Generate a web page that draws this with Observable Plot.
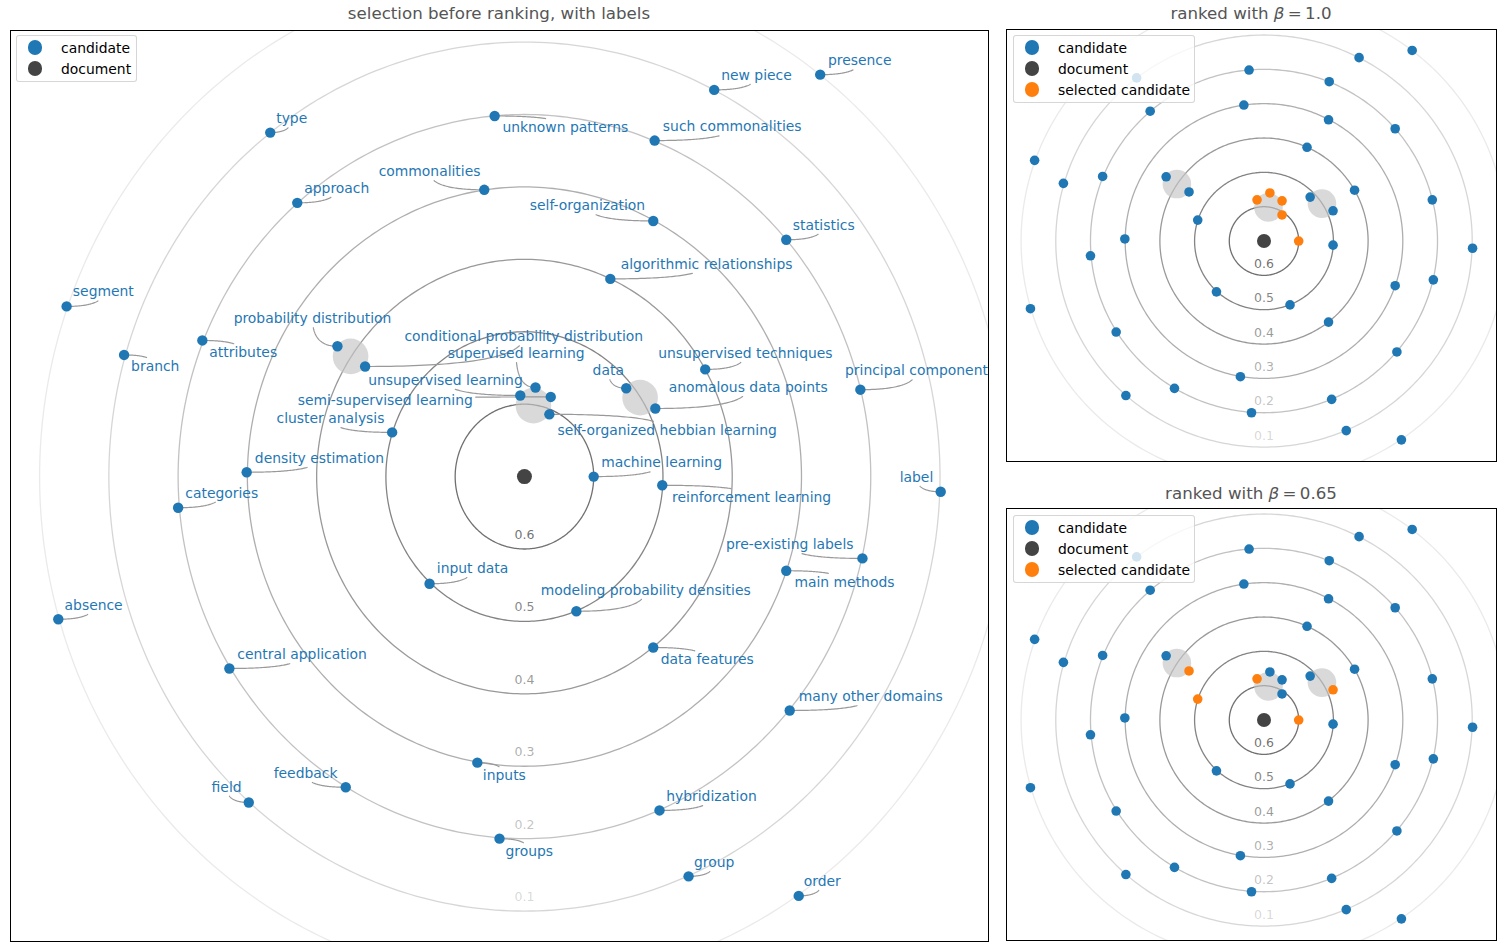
<!DOCTYPE html>
<html><head><meta charset="utf-8">
<script src="https://cdn.jsdelivr.net/npm/d3@7"></script>
<script src="https://cdn.jsdelivr.net/npm/@observablehq/plot@0.6"></script>
<style>
body{margin:0;background:#fff;font-family:"DejaVu Sans",sans-serif;}
#root{position:relative;width:1500px;height:950px;overflow:hidden;background:#fff;}
.panel{position:absolute;}
.title{position:absolute;text-align:center;font-size:16.67px;color:#555;line-height:20px;white-space:nowrap;}
.legend{position:absolute;box-sizing:border-box;background:rgba(255,255,255,0.8);border:1px solid rgba(204,204,204,0.8);border-radius:3px;font-size:13.9px;color:#000;}
.legend .row{position:absolute;height:20px;line-height:20px;white-space:nowrap;}
.legend .sw{position:absolute;width:14.6px;height:14.6px;border-radius:50%;}
</style></head>
<body><div id="root"></div>
<script>
// ---------------- data ----------------
// candidate phrases: position in the similarity plane (x, y) and label centre (lx, ly)
const candidates = [
  {term:"type", x:-0.367, y:0.475, lx:-0.336, ly:0.494},
  {term:"approach", x:-0.328, y:0.378, lx:-0.271, ly:0.398},
  {term:"commonalities", x:-0.058, y:0.396, lx:-0.137, ly:0.421},
  {term:"segment", x:-0.661, y:0.235, lx:-0.608, ly:0.255},
  {term:"branch", x:-0.578, y:0.168, lx:-0.533, ly:0.152},
  {term:"attributes", x:-0.465, y:0.188, lx:-0.406, ly:0.171},
  {term:"probability distribution", x:-0.270, y:0.180, lx:-0.306, ly:0.218},
  {term:"cluster analysis", x:-0.191, y:0.061, lx:-0.280, ly:0.080},
  {term:"density estimation", x:-0.401, y:0.006, lx:-0.296, ly:0.025},
  {term:"presence", x:0.427, y:0.555, lx:0.484, ly:0.574},
  {term:"new piece", x:0.274, y:0.534, lx:0.335, ly:0.554},
  {term:"unknown patterns", x:-0.043, y:0.498, lx:0.059, ly:0.482},
  {term:"such commonalities", x:0.188, y:0.464, lx:0.300, ly:0.483},
  {term:"self-organization", x:0.186, y:0.353, lx:0.091, ly:0.374},
  {term:"statistics", x:0.378, y:0.327, lx:0.432, ly:0.347},
  {term:"algorithmic relationships", x:0.124, y:0.273, lx:0.263, ly:0.293},
  {term:"unsupervised techniques", x:0.261, y:0.148, lx:0.319, ly:0.170},
  {term:"principal component", x:0.485, y:0.120, lx:0.566, ly:0.146},
  {term:"data", x:0.147, y:0.122, lx:0.121, ly:0.146},
  {term:"anomalous data points", x:0.189, y:0.094, lx:0.323, ly:0.123},
  {term:"conditional probability distribution", x:-0.230, y:0.152, lx:-0.001, ly:0.193},
  {term:"supervised learning", x:0.016, y:0.123, lx:-0.012, ly:0.170},
  {term:"unsupervised learning", x:-0.006, y:0.112, lx:-0.114, ly:0.133},
  {term:"semi-supervised learning", x:0.038, y:0.110, lx:-0.201, ly:0.105},
  {term:"self-organized hebbian learning", x:0.036, y:0.086, lx:0.206, ly:0.064},
  {term:"machine learning", x:0.100, y:0.000, lx:0.198, ly:0.019},
  {term:"reinforcement learning", x:0.199, y:-0.012, lx:0.328, ly:-0.029},
  {term:"label", x:0.601, y:-0.021, lx:0.566, ly:-0.001},
  {term:"pre-existing labels", x:0.488, y:-0.113, lx:0.383, ly:-0.094},
  {term:"main methods", x:0.378, y:-0.130, lx:0.462, ly:-0.146},
  {term:"modeling probability densities", x:0.075, y:-0.186, lx:0.175, ly:-0.157},
  {term:"data features", x:0.186, y:-0.236, lx:0.264, ly:-0.253},
  {term:"many other domains", x:0.383, y:-0.323, lx:0.500, ly:-0.304},
  {term:"hybridization", x:0.195, y:-0.461, lx:0.270, ly:-0.442},
  {term:"group", x:0.237, y:-0.552, lx:0.274, ly:-0.533},
  {term:"order", x:0.396, y:-0.579, lx:0.430, ly:-0.559},
  {term:"input data", x:-0.137, y:-0.148, lx:-0.075, ly:-0.127},
  {term:"absence", x:-0.673, y:-0.197, lx:-0.622, ly:-0.178},
  {term:"central application", x:-0.426, y:-0.265, lx:-0.321, ly:-0.246},
  {term:"feedback", x:-0.258, y:-0.429, lx:-0.316, ly:-0.410},
  {term:"field", x:-0.398, y:-0.450, lx:-0.430, ly:-0.429},
  {term:"inputs", x:-0.068, y:-0.395, lx:-0.029, ly:-0.413},
  {term:"groups", x:-0.036, y:-0.500, lx:0.007, ly:-0.518},
  {term:"categories", x:-0.500, y:-0.043, lx:-0.437, ly:-0.023}
];
// positions of grouped candidates as drawn in the ranked panels
const rankedPositions = [
  {term:"probability distribution", x:-0.282, y:0.187},
  {term:"conditional probability distribution", x:-0.216, y:0.143},
  {term:"data", x:0.133, y:0.128},
  {term:"anomalous data points", x:0.199, y:0.088},
  {term:"unsupervised learning", x:-0.020, y:0.120},
  {term:"supervised learning", x:0.017, y:0.140},
  {term:"semi-supervised learning", x:0.052, y:0.117},
  {term:"self-organized hebbian learning", x:0.052, y:0.076}
];
const clusterCentres = [
  {x:-0.251, y:0.166},
  {x:0.013, y:0.098},
  {x:0.167, y:0.109}
];
const documentPoint = [{x:0, y:0}];
const ringValues = [0.6, 0.5, 0.4, 0.3, 0.2, 0.1, 0.0];
const ringTickLabels = [0.6, 0.5, 0.4, 0.3, 0.2, 0.1];
const selectedBeta1 = ["supervised learning","unsupervised learning","semi-supervised learning","self-organized hebbian learning","machine learning"];
const selectedBeta065 = ["unsupervised learning","conditional probability distribution","cluster analysis","anomalous data points","machine learning"];
const maxSimilarity = 0.7;

// ---------------- styling ----------------
const BLUE = "#1f77b4", ORANGE = "#ff7f0e", DOC = "#444444";
const FONT = "DejaVu Sans";
const xDomain = [-0.742, 0.670], yDomain = [-0.642, 0.616];
const ringOpacity = v => 0.12 + v * 1.2;

function ringPoints(v) {
  const r = maxSimilarity - v;
  return d3.range(0, 361, 1).map(a => ({ring: v, x: r * Math.cos(a * Math.PI / 180), y: r * Math.sin(a * Math.PI / 180)}));
}

const ctx = document.createElement("canvas").getContext("2d");
ctx.font = `13.9px "${FONT}"`;

function connector(d, kx, ky) {
  const hw = ctx.measureText(d.term).width / 2 + 3, hh = 9;
  const P = t => ({term: d.term,
    x: (1 - t) * (1 - t) * d.lx + 2 * t * (1 - t) * d.lx + t * t * d.x,
    y: (1 - t) * (1 - t) * d.ly + 2 * t * (1 - t) * d.y + t * t * d.y});
  const inside = p => Math.abs((p.x - d.lx) * kx) < hw && Math.abs((p.y - d.ly) * ky) < hh;
  if (inside(P(1))) return [];
  let lo = 0, hi = 1;
  for (let i = 0; i < 40; i++) { const m = (lo + hi) / 2; if (inside(P(m))) lo = m; else hi = m; }
  return d3.range(0, 41).map(i => P(hi + (1 - hi) * i / 40));
}

function makePanel({w, h, labels, selected, dotR, docR, blobR, ringDy}) {
  const kx = w / (xDomain[1] - xDomain[0]), ky = h / (yDomain[1] - yDomain[0]);
  const override = new Map(rankedPositions.map(d => [d.term, d]));
  const pts = candidates.map(d => {
    const o = labels ? null : override.get(d.term);
    return {...d, x: o ? o.x : d.x, y: o ? o.y : d.y, sel: selected.includes(d.term)};
  });
  const marks = [];
  for (const v of ringValues) {
    marks.push(Plot.line(ringPoints(v), {x: "x", y: "y", stroke: "#555", strokeOpacity: ringOpacity(v), strokeWidth: 1.3, curve: "linear-closed", clip: true}));
  }
  marks.push(Plot.text(ringTickLabels, {x: () => 0, y: d => -(maxSimilarity - d), text: d => d.toFixed(1), dy: -ringDy, fill: "#555", fillOpacity: d => ringOpacity(d), fontSize: 12.5, fontFamily: FONT}));
  marks.push(Plot.dot(clusterCentres, {x: "x", y: "y", r: blobR, fill: "#c4c4c4", fillOpacity: 0.65}));
  if (labels) {
    const conn = pts.flatMap(d => connector(d, kx, ky));
    marks.push(Plot.line(conn, {x: "x", y: "y", z: "term", stroke: "#999", strokeWidth: 1.2}));
  }
  marks.push(Plot.dot(pts.filter(d => !d.sel), {x: "x", y: "y", r: dotR, fill: BLUE}));
  marks.push(Plot.dot(pts.filter(d => d.sel), {x: "x", y: "y", r: dotR, fill: ORANGE}));
  marks.push(Plot.dot(documentPoint, {x: "x", y: "y", r: docR, fill: DOC}));
  if (labels) {
    marks.push(Plot.text(pts, {x: "lx", y: "ly", text: "term", fill: BLUE, fontSize: 13.9, fontFamily: FONT, textAnchor: "middle", lineAnchor: "middle"}));
  }
  marks.push(Plot.frame({stroke: "#000", strokeWidth: 1}));
  return Plot.plot({
    width: w + 2, height: h + 2,
    marginLeft: 1, marginRight: 1, marginTop: 1, marginBottom: 1,
    x: {domain: xDomain, axis: null},
    y: {domain: yDomain, axis: null},
    style: {fontFamily: FONT, background: "transparent", overflow: "visible"},
    marks
  });
}

const root = document.getElementById("root");
function place(el, left, top) { el.classList.add("panel"); el.style.left = left + "px"; el.style.top = top + "px"; root.appendChild(el); }

place(makePanel({w: 978, h: 911, labels: true, selected: [], dotR: 5.2, docR: 7.5, blobR: 17.8, ringDy: 14}), 9, 29);
place(makePanel({w: 490, h: 432, labels: false, selected: selectedBeta1, dotR: 4.8, docR: 7, blobR: 14.3, ringDy: 11.3}), 1005, 28);
place(makePanel({w: 490, h: 432, labels: false, selected: selectedBeta065, dotR: 4.8, docR: 7, blobR: 14.3, ringDy: 11.3}), 1005, 507);

function title(html, left, width, top) {
  const t = document.createElement("div"); t.className = "title";
  t.style.left = left + "px"; t.style.width = width + "px"; t.style.top = top + "px";
  t.innerHTML = html; root.appendChild(t);
}
title("selection before ranking, with labels", 10, 978, 4);
title('ranked with <i>β</i>\u2009=\u20091.0', 1006, 490, 4);
title('ranked with <i>β</i>\u2009=\u20090.65', 1006, 490, 484);

function legend(entries, left, top, width) {
  const L = document.createElement("div"); L.className = "legend";
  L.style.left = left + "px"; L.style.top = top + "px"; L.style.width = width + "px";
  L.style.height = (entries.length * 21 + 5) + "px";
  entries.forEach(([label, color], i) => {
    const cy = 11.5 + i * 21;
    const sw = document.createElement("div"); sw.className = "sw";
    sw.style.background = color; sw.style.left = (18 - 7.3) + "px"; sw.style.top = (cy - 7.3) + "px";
    const r = document.createElement("div"); r.className = "row";
    r.style.left = "44px"; r.style.top = (cy - 10) + "px"; r.textContent = label;
    L.appendChild(sw); L.appendChild(r);
  });
  root.appendChild(L);
}
legend([["candidate", BLUE], ["document", DOC]], 16, 35, 121);
legend([["candidate", BLUE], ["document", DOC], ["selected candidate", ORANGE]], 1013, 35, 182);
legend([["candidate", BLUE], ["document", DOC], ["selected candidate", ORANGE]], 1013, 515, 182);
</script></body></html>
